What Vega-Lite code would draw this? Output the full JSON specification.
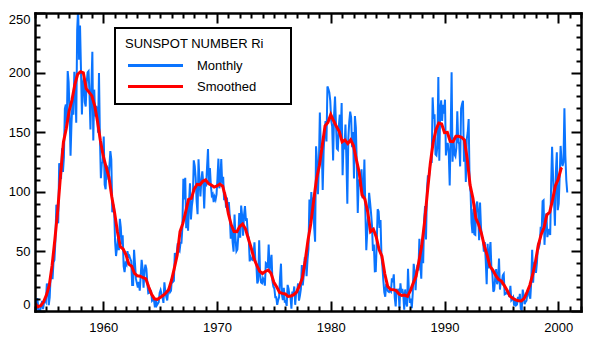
{
"$schema": "https://vega.github.io/schema/vega-lite/v6.json",
"width": 546, "height": 298,
"autosize": {"type": "none"},
"padding": {"left": 35, "top": 13, "right": 14, "bottom": 28},
"background": "white",
"config": {"view": {"stroke": null}, "font": "Liberation Sans", "legend": {"strokeWidth": 2}},
"datasets": {
"monthly": [
{"t":1954.042,"v":0.2},{"t":1954.125,"v":0.5},{"t":1954.208,"v":10.9},{"t":1954.292,"v":1.8},{"t":1954.375,"v":0.8},{"t":1954.458,"v":0.2},{"t":1954.542,"v":4.8},{"t":1954.625,"v":8.4},{"t":1954.708,"v":1.5},{"t":1954.792,"v":7.0},{"t":1954.875,"v":9.2},{"t":1954.958,"v":7.6},
{"t":1955.042,"v":23.1},{"t":1955.125,"v":20.8},{"t":1955.208,"v":4.9},{"t":1955.292,"v":11.3},{"t":1955.375,"v":28.9},{"t":1955.458,"v":31.7},{"t":1955.542,"v":26.7},{"t":1955.625,"v":40.7},{"t":1955.708,"v":42.7},{"t":1955.792,"v":58.5},{"t":1955.875,"v":89.2},{"t":1955.958,"v":76.9},
{"t":1956.042,"v":73.6},{"t":1956.125,"v":124.0},{"t":1956.208,"v":118.4},{"t":1956.292,"v":110.7},{"t":1956.375,"v":136.6},{"t":1956.458,"v":116.6},{"t":1956.542,"v":129.1},{"t":1956.625,"v":169.6},{"t":1956.708,"v":173.2},{"t":1956.792,"v":155.3},{"t":1956.875,"v":201.3},{"t":1956.958,"v":192.1},
{"t":1957.042,"v":165.0},{"t":1957.125,"v":130.2},{"t":1957.208,"v":157.4},{"t":1957.292,"v":175.2},{"t":1957.375,"v":164.6},{"t":1957.458,"v":200.7},{"t":1957.542,"v":187.2},{"t":1957.625,"v":158.0},{"t":1957.708,"v":235.8},{"t":1957.792,"v":253.8},{"t":1957.875,"v":210.9},{"t":1957.958,"v":239.4},
{"t":1958.042,"v":202.5},{"t":1958.125,"v":164.9},{"t":1958.208,"v":190.7},{"t":1958.292,"v":196.0},{"t":1958.375,"v":175.3},{"t":1958.458,"v":171.5},{"t":1958.542,"v":191.4},{"t":1958.625,"v":200.2},{"t":1958.708,"v":201.2},{"t":1958.792,"v":181.5},{"t":1958.875,"v":152.3},{"t":1958.958,"v":187.6},
{"t":1959.042,"v":217.4},{"t":1959.125,"v":143.1},{"t":1959.208,"v":185.7},{"t":1959.292,"v":163.3},{"t":1959.375,"v":172.0},{"t":1959.458,"v":168.7},{"t":1959.542,"v":149.6},{"t":1959.625,"v":199.6},{"t":1959.708,"v":145.2},{"t":1959.792,"v":111.4},{"t":1959.875,"v":124.0},{"t":1959.958,"v":125.0},
{"t":1960.042,"v":146.3},{"t":1960.125,"v":106.0},{"t":1960.208,"v":102.2},{"t":1960.292,"v":122.0},{"t":1960.375,"v":119.6},{"t":1960.458,"v":110.2},{"t":1960.542,"v":121.7},{"t":1960.625,"v":134.1},{"t":1960.708,"v":127.2},{"t":1960.792,"v":82.8},{"t":1960.875,"v":89.6},{"t":1960.958,"v":85.6},
{"t":1961.042,"v":57.9},{"t":1961.125,"v":46.1},{"t":1961.208,"v":53.0},{"t":1961.292,"v":61.4},{"t":1961.375,"v":51.0},{"t":1961.458,"v":77.4},{"t":1961.542,"v":70.2},{"t":1961.625,"v":55.8},{"t":1961.708,"v":63.6},{"t":1961.792,"v":37.7},{"t":1961.875,"v":32.6},{"t":1961.958,"v":39.9},
{"t":1962.042,"v":38.7},{"t":1962.125,"v":50.3},{"t":1962.208,"v":45.6},{"t":1962.292,"v":46.4},{"t":1962.375,"v":43.7},{"t":1962.458,"v":42.0},{"t":1962.542,"v":21.8},{"t":1962.625,"v":21.8},{"t":1962.708,"v":51.3},{"t":1962.792,"v":39.5},{"t":1962.875,"v":26.9},{"t":1962.958,"v":23.2},
{"t":1963.042,"v":19.8},{"t":1963.125,"v":24.4},{"t":1963.208,"v":17.1},{"t":1963.292,"v":29.3},{"t":1963.375,"v":43.0},{"t":1963.458,"v":35.9},{"t":1963.542,"v":19.6},{"t":1963.625,"v":33.2},{"t":1963.708,"v":38.8},{"t":1963.792,"v":35.3},{"t":1963.875,"v":23.4},{"t":1963.958,"v":14.9},
{"t":1964.042,"v":15.3},{"t":1964.125,"v":17.7},{"t":1964.208,"v":16.5},{"t":1964.292,"v":8.6},{"t":1964.375,"v":9.5},{"t":1964.458,"v":9.1},{"t":1964.542,"v":3.1},{"t":1964.625,"v":9.3},{"t":1964.708,"v":4.7},{"t":1964.792,"v":6.1},{"t":1964.875,"v":7.4},{"t":1964.958,"v":15.1},
{"t":1965.042,"v":17.5},{"t":1965.125,"v":14.2},{"t":1965.208,"v":11.7},{"t":1965.292,"v":6.8},{"t":1965.375,"v":24.1},{"t":1965.458,"v":15.9},{"t":1965.542,"v":11.9},{"t":1965.625,"v":8.9},{"t":1965.708,"v":16.8},{"t":1965.792,"v":20.1},{"t":1965.875,"v":15.8},{"t":1965.958,"v":17.0},
{"t":1966.042,"v":28.2},{"t":1966.125,"v":24.4},{"t":1966.208,"v":25.3},{"t":1966.292,"v":48.7},{"t":1966.375,"v":45.3},{"t":1966.458,"v":47.7},{"t":1966.542,"v":56.7},{"t":1966.625,"v":51.2},{"t":1966.708,"v":50.2},{"t":1966.792,"v":57.2},{"t":1966.875,"v":57.2},{"t":1966.958,"v":70.4},
{"t":1967.042,"v":110.9},{"t":1967.125,"v":93.6},{"t":1967.208,"v":111.8},{"t":1967.292,"v":69.5},{"t":1967.375,"v":86.5},{"t":1967.458,"v":67.3},{"t":1967.542,"v":91.5},{"t":1967.625,"v":107.2},{"t":1967.708,"v":76.8},{"t":1967.792,"v":88.2},{"t":1967.875,"v":94.3},{"t":1967.958,"v":126.4},
{"t":1968.042,"v":121.8},{"t":1968.125,"v":111.9},{"t":1968.208,"v":92.2},{"t":1968.292,"v":81.2},{"t":1968.375,"v":127.2},{"t":1968.458,"v":110.3},{"t":1968.542,"v":96.1},{"t":1968.625,"v":109.3},{"t":1968.708,"v":117.2},{"t":1968.792,"v":107.7},{"t":1968.875,"v":86.0},{"t":1968.958,"v":109.8},
{"t":1969.042,"v":104.4},{"t":1969.125,"v":120.5},{"t":1969.208,"v":135.8},{"t":1969.292,"v":106.8},{"t":1969.375,"v":120.0},{"t":1969.458,"v":106.0},{"t":1969.542,"v":96.8},{"t":1969.625,"v":98.0},{"t":1969.708,"v":91.3},{"t":1969.792,"v":95.7},{"t":1969.875,"v":93.5},{"t":1969.958,"v":97.9},
{"t":1970.042,"v":111.5},{"t":1970.125,"v":127.8},{"t":1970.208,"v":102.9},{"t":1970.292,"v":109.5},{"t":1970.375,"v":127.5},{"t":1970.458,"v":106.8},{"t":1970.542,"v":112.5},{"t":1970.625,"v":93.0},{"t":1970.708,"v":99.5},{"t":1970.792,"v":86.6},{"t":1970.875,"v":95.2},{"t":1970.958,"v":83.5},
{"t":1971.042,"v":91.3},{"t":1971.125,"v":79.0},{"t":1971.208,"v":60.7},{"t":1971.292,"v":71.8},{"t":1971.375,"v":57.5},{"t":1971.458,"v":49.8},{"t":1971.542,"v":81.0},{"t":1971.625,"v":61.4},{"t":1971.708,"v":50.2},{"t":1971.792,"v":51.7},{"t":1971.875,"v":63.2},{"t":1971.958,"v":82.2},
{"t":1972.042,"v":61.5},{"t":1972.125,"v":88.4},{"t":1972.208,"v":80.1},{"t":1972.292,"v":63.2},{"t":1972.375,"v":80.5},{"t":1972.458,"v":88.0},{"t":1972.542,"v":76.5},{"t":1972.625,"v":76.8},{"t":1972.708,"v":64.0},{"t":1972.792,"v":61.3},{"t":1972.875,"v":41.6},{"t":1972.958,"v":45.3},
{"t":1973.042,"v":43.4},{"t":1973.125,"v":42.9},{"t":1973.208,"v":46.0},{"t":1973.292,"v":57.7},{"t":1973.375,"v":42.4},{"t":1973.458,"v":39.5},{"t":1973.542,"v":23.1},{"t":1973.625,"v":25.6},{"t":1973.708,"v":59.3},{"t":1973.792,"v":30.7},{"t":1973.875,"v":23.9},{"t":1973.958,"v":23.3},
{"t":1974.042,"v":27.6},{"t":1974.125,"v":26.0},{"t":1974.208,"v":21.3},{"t":1974.292,"v":40.3},{"t":1974.375,"v":39.5},{"t":1974.458,"v":36.0},{"t":1974.542,"v":55.8},{"t":1974.625,"v":33.6},{"t":1974.708,"v":40.2},{"t":1974.792,"v":47.1},{"t":1974.875,"v":25.0},{"t":1974.958,"v":20.5},
{"t":1975.042,"v":18.9},{"t":1975.125,"v":11.5},{"t":1975.208,"v":11.5},{"t":1975.292,"v":5.1},{"t":1975.375,"v":9.0},{"t":1975.458,"v":11.4},{"t":1975.542,"v":28.2},{"t":1975.625,"v":39.7},{"t":1975.708,"v":13.9},{"t":1975.792,"v":9.1},{"t":1975.875,"v":19.4},{"t":1975.958,"v":7.8},
{"t":1976.042,"v":8.1},{"t":1976.125,"v":4.3},{"t":1976.208,"v":21.9},{"t":1976.292,"v":18.8},{"t":1976.375,"v":12.4},{"t":1976.458,"v":12.2},{"t":1976.542,"v":1.9},{"t":1976.625,"v":16.4},{"t":1976.708,"v":13.5},{"t":1976.792,"v":20.6},{"t":1976.875,"v":5.2},{"t":1976.958,"v":15.3},
{"t":1977.042,"v":16.4},{"t":1977.125,"v":23.1},{"t":1977.208,"v":8.7},{"t":1977.292,"v":12.9},{"t":1977.375,"v":18.6},{"t":1977.458,"v":38.5},{"t":1977.542,"v":21.4},{"t":1977.625,"v":30.1},{"t":1977.708,"v":44.0},{"t":1977.792,"v":43.8},{"t":1977.875,"v":29.1},{"t":1977.958,"v":43.2},
{"t":1978.042,"v":51.9},{"t":1978.125,"v":93.6},{"t":1978.208,"v":76.5},{"t":1978.292,"v":99.7},{"t":1978.375,"v":82.7},{"t":1978.458,"v":95.1},{"t":1978.542,"v":70.4},{"t":1978.625,"v":58.1},{"t":1978.708,"v":138.2},{"t":1978.792,"v":125.1},{"t":1978.875,"v":97.9},{"t":1978.958,"v":122.7},
{"t":1979.042,"v":166.6},{"t":1979.125,"v":137.5},{"t":1979.208,"v":138.0},{"t":1979.292,"v":101.5},{"t":1979.375,"v":134.4},{"t":1979.458,"v":149.5},{"t":1979.542,"v":159.4},{"t":1979.625,"v":142.2},{"t":1979.708,"v":188.4},{"t":1979.792,"v":186.2},{"t":1979.875,"v":183.3},{"t":1979.958,"v":176.3},
{"t":1980.042,"v":159.6},{"t":1980.125,"v":155.0},{"t":1980.208,"v":126.2},{"t":1980.292,"v":164.1},{"t":1980.375,"v":179.9},{"t":1980.458,"v":157.3},{"t":1980.542,"v":136.3},{"t":1980.625,"v":135.4},{"t":1980.708,"v":155.0},{"t":1980.792,"v":164.7},{"t":1980.875,"v":147.9},{"t":1980.958,"v":174.4},
{"t":1981.042,"v":114.0},{"t":1981.125,"v":141.3},{"t":1981.208,"v":135.5},{"t":1981.292,"v":156.4},{"t":1981.375,"v":127.5},{"t":1981.458,"v":90.0},{"t":1981.542,"v":143.8},{"t":1981.625,"v":158.7},{"t":1981.708,"v":167.3},{"t":1981.792,"v":162.4},{"t":1981.875,"v":137.5},{"t":1981.958,"v":150.1},
{"t":1982.042,"v":111.2},{"t":1982.125,"v":163.6},{"t":1982.208,"v":153.8},{"t":1982.292,"v":122.0},{"t":1982.375,"v":82.2},{"t":1982.458,"v":110.4},{"t":1982.542,"v":106.1},{"t":1982.625,"v":107.6},{"t":1982.708,"v":118.8},{"t":1982.792,"v":94.7},{"t":1982.875,"v":98.1},{"t":1982.958,"v":127.0},
{"t":1983.042,"v":84.3},{"t":1983.125,"v":51.0},{"t":1983.208,"v":66.5},{"t":1983.292,"v":80.7},{"t":1983.375,"v":99.2},{"t":1983.458,"v":91.1},{"t":1983.542,"v":82.2},{"t":1983.625,"v":71.8},{"t":1983.708,"v":50.3},{"t":1983.792,"v":55.8},{"t":1983.875,"v":33.3},{"t":1983.958,"v":33.4},
{"t":1984.042,"v":57.0},{"t":1984.125,"v":85.4},{"t":1984.208,"v":83.5},{"t":1984.292,"v":69.7},{"t":1984.375,"v":76.4},{"t":1984.458,"v":46.1},{"t":1984.542,"v":37.4},{"t":1984.625,"v":25.5},{"t":1984.708,"v":15.7},{"t":1984.792,"v":12.0},{"t":1984.875,"v":22.8},{"t":1984.958,"v":18.7},
{"t":1985.042,"v":16.5},{"t":1985.125,"v":15.9},{"t":1985.208,"v":17.2},{"t":1985.292,"v":16.2},{"t":1985.375,"v":27.5},{"t":1985.458,"v":24.2},{"t":1985.542,"v":30.7},{"t":1985.625,"v":11.1},{"t":1985.708,"v":3.9},{"t":1985.792,"v":18.6},{"t":1985.875,"v":16.2},{"t":1985.958,"v":17.3},
{"t":1986.042,"v":2.5},{"t":1986.125,"v":23.2},{"t":1986.208,"v":15.1},{"t":1986.292,"v":18.5},{"t":1986.375,"v":13.7},{"t":1986.458,"v":1.1},{"t":1986.542,"v":18.1},{"t":1986.625,"v":7.4},{"t":1986.708,"v":3.8},{"t":1986.792,"v":35.4},{"t":1986.875,"v":15.2},{"t":1986.958,"v":6.8},
{"t":1987.042,"v":10.4},{"t":1987.125,"v":2.4},{"t":1987.208,"v":14.7},{"t":1987.292,"v":39.6},{"t":1987.375,"v":33.0},{"t":1987.458,"v":17.4},{"t":1987.542,"v":33.0},{"t":1987.625,"v":38.7},{"t":1987.708,"v":33.9},{"t":1987.792,"v":60.6},{"t":1987.875,"v":39.9},{"t":1987.958,"v":27.1},
{"t":1988.042,"v":59.0},{"t":1988.125,"v":40.0},{"t":1988.208,"v":76.2},{"t":1988.292,"v":88.0},{"t":1988.375,"v":60.1},{"t":1988.458,"v":101.8},{"t":1988.542,"v":113.8},{"t":1988.625,"v":111.0},{"t":1988.708,"v":120.1},{"t":1988.792,"v":125.1},{"t":1988.875,"v":125.1},{"t":1988.958,"v":179.2},
{"t":1989.042,"v":161.3},{"t":1989.125,"v":165.1},{"t":1989.208,"v":131.4},{"t":1989.292,"v":130.5},{"t":1989.375,"v":138.5},{"t":1989.458,"v":196.2},{"t":1989.542,"v":126.0},{"t":1989.625,"v":168.7},{"t":1989.708,"v":176.7},{"t":1989.792,"v":159.4},{"t":1989.875,"v":173.0},{"t":1989.958,"v":165.5},
{"t":1990.042,"v":177.3},{"t":1990.125,"v":130.5},{"t":1990.208,"v":140.3},{"t":1990.292,"v":140.3},{"t":1990.375,"v":132.2},{"t":1990.458,"v":105.4},{"t":1990.542,"v":149.4},{"t":1990.625,"v":200.3},{"t":1990.708,"v":125.2},{"t":1990.792,"v":145.5},{"t":1990.875,"v":131.4},{"t":1990.958,"v":129.7},
{"t":1991.042,"v":136.9},{"t":1991.125,"v":167.5},{"t":1991.208,"v":141.9},{"t":1991.292,"v":140.0},{"t":1991.375,"v":121.3},{"t":1991.458,"v":169.7},{"t":1991.542,"v":173.7},{"t":1991.625,"v":176.3},{"t":1991.708,"v":125.3},{"t":1991.792,"v":144.1},{"t":1991.875,"v":108.2},{"t":1991.958,"v":144.4},
{"t":1992.042,"v":150.0},{"t":1992.125,"v":161.1},{"t":1992.208,"v":106.7},{"t":1992.292,"v":99.8},{"t":1992.375,"v":73.8},{"t":1992.458,"v":65.2},{"t":1992.542,"v":85.7},{"t":1992.625,"v":64.5},{"t":1992.708,"v":63.9},{"t":1992.792,"v":88.7},{"t":1992.875,"v":91.8},{"t":1992.958,"v":82.6},
{"t":1993.042,"v":59.3},{"t":1993.125,"v":91.0},{"t":1993.208,"v":69.8},{"t":1993.292,"v":62.2},{"t":1993.375,"v":61.3},{"t":1993.458,"v":49.8},{"t":1993.542,"v":57.9},{"t":1993.625,"v":42.2},{"t":1993.708,"v":22.4},{"t":1993.792,"v":56.4},{"t":1993.875,"v":35.6},{"t":1993.958,"v":48.9},
{"t":1994.042,"v":57.8},{"t":1994.125,"v":35.5},{"t":1994.208,"v":31.7},{"t":1994.292,"v":16.1},{"t":1994.375,"v":17.8},{"t":1994.458,"v":28.0},{"t":1994.542,"v":35.1},{"t":1994.625,"v":22.5},{"t":1994.708,"v":25.7},{"t":1994.792,"v":44.0},{"t":1994.875,"v":18.0},{"t":1994.958,"v":26.2},
{"t":1995.042,"v":24.2},{"t":1995.125,"v":29.9},{"t":1995.208,"v":31.1},{"t":1995.292,"v":14.0},{"t":1995.375,"v":14.5},{"t":1995.458,"v":15.6},{"t":1995.542,"v":14.5},{"t":1995.625,"v":14.3},{"t":1995.708,"v":11.8},{"t":1995.792,"v":21.1},{"t":1995.875,"v":9.0},{"t":1995.958,"v":10.0},
{"t":1996.042,"v":11.5},{"t":1996.125,"v":4.4},{"t":1996.208,"v":9.2},{"t":1996.292,"v":4.8},{"t":1996.375,"v":5.5},{"t":1996.458,"v":11.8},{"t":1996.542,"v":8.2},{"t":1996.625,"v":14.4},{"t":1996.708,"v":1.6},{"t":1996.792,"v":0.9},{"t":1996.875,"v":17.9},{"t":1996.958,"v":13.3},
{"t":1997.042,"v":5.7},{"t":1997.125,"v":7.6},{"t":1997.208,"v":8.7},{"t":1997.292,"v":15.5},{"t":1997.375,"v":18.5},{"t":1997.458,"v":12.7},{"t":1997.542,"v":10.4},{"t":1997.625,"v":24.4},{"t":1997.708,"v":51.3},{"t":1997.792,"v":23.8},{"t":1997.875,"v":39.0},{"t":1997.958,"v":41.8},
{"t":1998.042,"v":31.9},{"t":1998.125,"v":40.3},{"t":1998.208,"v":54.8},{"t":1998.292,"v":53.4},{"t":1998.375,"v":56.3},{"t":1998.458,"v":70.7},{"t":1998.542,"v":66.6},{"t":1998.625,"v":92.2},{"t":1998.708,"v":92.9},{"t":1998.792,"v":55.5},{"t":1998.875,"v":74.0},{"t":1998.958,"v":81.9},
{"t":1999.042,"v":62.0},{"t":1999.125,"v":66.3},{"t":1999.208,"v":68.8},{"t":1999.292,"v":63.7},{"t":1999.375,"v":106.4},{"t":1999.458,"v":137.7},{"t":1999.542,"v":113.5},{"t":1999.625,"v":93.7},{"t":1999.708,"v":71.5},{"t":1999.792,"v":116.7},{"t":1999.875,"v":133.2},{"t":1999.958,"v":84.6},
{"t":2000.042,"v":90.1},{"t":2000.125,"v":112.9},{"t":2000.208,"v":138.5},{"t":2000.292,"v":125.5},{"t":2000.375,"v":121.6},{"t":2000.458,"v":124.9},{"t":2000.542,"v":170.1},{"t":2000.625,"v":130.5},{"t":2000.708,"v":109.7},{"t":2000.792,"v":99.4}
],
"smoothed": [
{"t":1954.0,"v":6.5},{"t":1954.25,"v":3.5},{"t":1954.5,"v":4.4},{"t":1954.75,"v":7.5},
{"t":1955.0,"v":13.3},{"t":1955.25,"v":21.2},{"t":1955.5,"v":38.0},{"t":1955.75,"v":60.2},
{"t":1956.0,"v":84.6},{"t":1956.25,"v":114.7},{"t":1956.5,"v":141.7},{"t":1956.75,"v":153.1},
{"t":1957.0,"v":167.8},{"t":1957.25,"v":176.9},{"t":1957.5,"v":189.9},{"t":1957.75,"v":198.6},
{"t":1958.0,"v":200.8},{"t":1958.25,"v":199.8},{"t":1958.5,"v":186.6},{"t":1958.75,"v":183.6},
{"t":1959.0,"v":180.4},{"t":1959.25,"v":172.2},{"t":1959.5,"v":158.8},{"t":1959.75,"v":142.8},
{"t":1960.0,"v":130.1},{"t":1960.25,"v":120.8},{"t":1960.5,"v":112.3},{"t":1960.75,"v":95.8},
{"t":1961.0,"v":82.3},{"t":1961.25,"v":66.2},{"t":1961.5,"v":53.9},{"t":1961.75,"v":52.0},
{"t":1962.0,"v":47.2},{"t":1962.25,"v":39.3},{"t":1962.5,"v":37.6},{"t":1962.75,"v":31.5},
{"t":1963.0,"v":29.5},{"t":1963.25,"v":29.2},{"t":1963.5,"v":27.9},{"t":1963.75,"v":26.9},
{"t":1964.0,"v":20.2},{"t":1964.25,"v":14.0},{"t":1964.5,"v":10.2},{"t":1964.75,"v":9.7},
{"t":1965.0,"v":11.3},{"t":1965.25,"v":13.0},{"t":1965.5,"v":15.1},{"t":1965.75,"v":17.9},
{"t":1966.0,"v":25.8},{"t":1966.25,"v":35.9},{"t":1966.5,"v":46.9},{"t":1966.75,"v":66.7},
{"t":1967.0,"v":73.5},{"t":1967.25,"v":83.3},{"t":1967.5,"v":93.7},{"t":1967.75,"v":94.5},
{"t":1968.0,"v":102.4},{"t":1968.25,"v":106.3},{"t":1968.5,"v":105.9},{"t":1968.75,"v":108.8},
{"t":1969.0,"v":110.0},{"t":1969.25,"v":106.9},{"t":1969.5,"v":105.6},{"t":1969.75,"v":104.0},
{"t":1970.0,"v":104.9},{"t":1970.25,"v":106.5},{"t":1970.5,"v":104.7},{"t":1970.75,"v":95.4},
{"t":1971.0,"v":81.7},{"t":1971.25,"v":72.3},{"t":1971.5,"v":66.7},{"t":1971.75,"v":66.6},
{"t":1972.0,"v":71.0},{"t":1972.25,"v":73.0},{"t":1972.5,"v":68.9},{"t":1972.75,"v":60.8},
{"t":1973.0,"v":53.1},{"t":1973.25,"v":44.0},{"t":1973.5,"v":38.2},{"t":1973.75,"v":33.4},
{"t":1974.0,"v":31.4},{"t":1974.25,"v":33.2},{"t":1974.5,"v":34.4},{"t":1974.75,"v":31.7},
{"t":1975.0,"v":24.1},{"t":1975.25,"v":20.2},{"t":1975.5,"v":15.5},{"t":1975.75,"v":14.8},
{"t":1976.0,"v":14.3},{"t":1976.25,"v":12.2},{"t":1976.5,"v":12.6},{"t":1976.75,"v":13.7},
{"t":1977.0,"v":15.9},{"t":1977.25,"v":21.2},{"t":1977.5,"v":27.5},{"t":1977.75,"v":42.0},
{"t":1978.0,"v":59.3},{"t":1978.25,"v":73.5},{"t":1978.5,"v":92.7},{"t":1978.75,"v":111.0},
{"t":1979.0,"v":122.0},{"t":1979.25,"v":138.6},{"t":1979.5,"v":155.3},{"t":1979.75,"v":158.2},
{"t":1980.0,"v":164.8},{"t":1980.25,"v":159.6},{"t":1980.5,"v":154.7},{"t":1980.75,"v":150.5},
{"t":1981.0,"v":141.9},{"t":1981.25,"v":143.5},{"t":1981.5,"v":140.4},{"t":1981.75,"v":143.5},
{"t":1982.0,"v":138.6},{"t":1982.25,"v":127.1},{"t":1982.5,"v":116.3},{"t":1982.75,"v":97.4},
{"t":1983.0,"v":93.8},{"t":1983.25,"v":83.1},{"t":1983.5,"v":66.6},{"t":1983.75,"v":68.6},
{"t":1984.0,"v":62.1},{"t":1984.25,"v":51.6},{"t":1984.5,"v":45.9},{"t":1984.75,"v":31.2},
{"t":1985.0,"v":20.8},{"t":1985.25,"v":18.1},{"t":1985.5,"v":17.9},{"t":1985.75,"v":17.2},
{"t":1986.0,"v":14.3},{"t":1986.25,"v":13.0},{"t":1986.5,"v":13.4},{"t":1986.75,"v":12.3},
{"t":1987.0,"v":17.0},{"t":1987.25,"v":23.4},{"t":1987.5,"v":29.2},{"t":1987.75,"v":41.5},
{"t":1988.0,"v":54.9},{"t":1988.25,"v":74.8},{"t":1988.5,"v":100.0},{"t":1988.75,"v":123.5},
{"t":1989.0,"v":141.4},{"t":1989.25,"v":152.0},{"t":1989.5,"v":157.7},{"t":1989.75,"v":156.9},
{"t":1990.0,"v":149.6},{"t":1990.25,"v":149.9},{"t":1990.5,"v":142.3},{"t":1990.75,"v":142.1},
{"t":1991.0,"v":146.6},{"t":1991.25,"v":146.6},{"t":1991.5,"v":145.8},{"t":1991.75,"v":143.4},
{"t":1992.0,"v":127.4},{"t":1992.25,"v":105.6},{"t":1992.5,"v":94.5},{"t":1992.75,"v":78.0},
{"t":1993.0,"v":72.6},{"t":1993.25,"v":64.9},{"t":1993.5,"v":54.7},{"t":1993.75,"v":46.8},
{"t":1994.0,"v":37.5},{"t":1994.25,"v":34.3},{"t":1994.5,"v":29.9},{"t":1994.75,"v":26.6},
{"t":1995.0,"v":25.1},{"t":1995.25,"v":21.5},{"t":1995.5,"v":17.5},{"t":1995.75,"v":12.5},
{"t":1996.0,"v":10.7},{"t":1996.25,"v":9.3},{"t":1996.5,"v":8.6},{"t":1996.75,"v":8.4},
{"t":1997.0,"v":10.4},{"t":1997.25,"v":15.6},{"t":1997.5,"v":21.6},{"t":1997.75,"v":30.4},
{"t":1998.0,"v":41.5},{"t":1998.25,"v":55.3},{"t":1998.5,"v":64.2},{"t":1998.75,"v":70.1},
{"t":1999.0,"v":80.7},{"t":1999.25,"v":82.9},{"t":1999.5,"v":93.2},{"t":1999.75,"v":105.2},
{"t":2000.0,"v":110.6},{"t":2000.25,"v":119.5},{"t":2000.33,"v":120.3}
]
},
"layer": [
{
"data": {"name": "monthly"},
"mark": {"type": "line", "strokeWidth": 2, "clip": true},
"encoding": {
"x": {"field": "t", "type": "quantitative",
"scale": {"domain": [1954, 2002], "nice": false, "zero": false},
"axis": {"orient": "bottom", "title": null, "grid": false, "zindex": 1,
"values": [1954,1955,1956,1957,1958,1959,1960,1961,1962,1963,1964,1965,1966,1967,1968,1969,1970,1971,1972,1973,1974,1975,1976,1977,1978,1979,1980,1981,1982,1983,1984,1985,1986,1987,1988,1989,1990,1991,1992,1993,1994,1995,1996,1997,1998,1999,2000,2001,2002],
"format": "d", "labelExpr": "datum.value % 10 === 0 ? datum.label : ''",
"tickSize": {"condition": {"test": "datum.value % 10 === 0", "value": -10}, "value": -5},
"labelPadding": 20, "labelOverlap": false, "labelFlush": false,
"domainColor": "black", "domainWidth": 2.5, "domainCap": "square", "tickColor": "black", "tickWidth": 2,
"labelFont": "Liberation Sans", "labelFontSize": 13, "labelColor": "black"}},
"y": {"field": "v", "type": "quantitative",
"scale": {"domain": [0, 250], "nice": false, "zero": true},
"axis": {"orient": "left", "title": null, "grid": false, "zindex": 1,
"values": [0,10,20,30,40,50,60,70,80,90,100,110,120,130,140,150,160,170,180,190,200,210,220,230,240,250],
"format": "d", "labelExpr": "datum.value % 50 === 0 ? datum.label : ''",
"tickSize": {"condition": {"test": "datum.value % 50 === 0", "value": -10}, "value": -5},
"labelPadding": 15, "labelOverlap": false, "labelFlush": true,
"domainColor": "black", "domainWidth": 2.5, "domainCap": "square", "tickColor": "black", "tickWidth": 2,
"labelFont": "Liberation Sans", "labelFontSize": 13, "labelColor": "black"}},
"color": {"datum": "Monthly", "type": "nominal",
"scale": {"domain": ["Monthly", "Smoothed"], "range": ["#0a74ff", "#ff0000"]},
"legend": {"orient": "none", "legendX": 80, "legendY": 15,
"title": "SUNSPOT NUMBER Ri", "titleFont": "Liberation Sans", "titleFontSize": 13, "titleFontWeight": "normal", "titleColor": "black", "titlePadding": 2,
"labelFont": "Liberation Sans", "labelFontSize": 13, "labelColor": "black",
"symbolType": "M-2.5,0H2.5M10.8,0", "symbolSize": 484, "symbolStrokeWidth": 3, "symbolOffset": 18, "labelOffset": 29,
"rowPadding": 1, "padding": 10, "strokeColor": "black", "fillColor": "white", "zindex": 2}}
}
},
{
"data": {"name": "smoothed"},
"mark": {"type": "line", "strokeWidth": 3, "clip": true},
"encoding": {
"x": {"field": "t", "type": "quantitative",
"axis": {"orient": "top", "title": null, "grid": false, "labels": false, "zindex": 1,
"values": [1954,1955,1956,1957,1958,1959,1960,1961,1962,1963,1964,1965,1966,1967,1968,1969,1970,1971,1972,1973,1974,1975,1976,1977,1978,1979,1980,1981,1982,1983,1984,1985,1986,1987,1988,1989,1990,1991,1992,1993,1994,1995,1996,1997,1998,1999,2000,2001,2002],
"tickSize": {"condition": {"test": "datum.value % 10 === 0", "value": -10}, "value": -5},
"domainColor": "black", "domainWidth": 2.5, "domainCap": "square", "tickColor": "black", "tickWidth": 2}},
"y": {"field": "v", "type": "quantitative",
"axis": {"orient": "right", "title": null, "grid": false, "labels": false, "zindex": 1,
"values": [0,10,20,30,40,50,60,70,80,90,100,110,120,130,140,150,160,170,180,190,200,210,220,230,240,250],
"tickSize": {"condition": {"test": "datum.value % 50 === 0", "value": -10}, "value": -5},
"domainColor": "black", "domainWidth": 2.5, "domainCap": "square", "tickColor": "black", "tickWidth": 2}},
"color": {"datum": "Smoothed", "type": "nominal"}
}
}
],
"resolve": {"axis": {"x": "independent", "y": "independent"}}
}
